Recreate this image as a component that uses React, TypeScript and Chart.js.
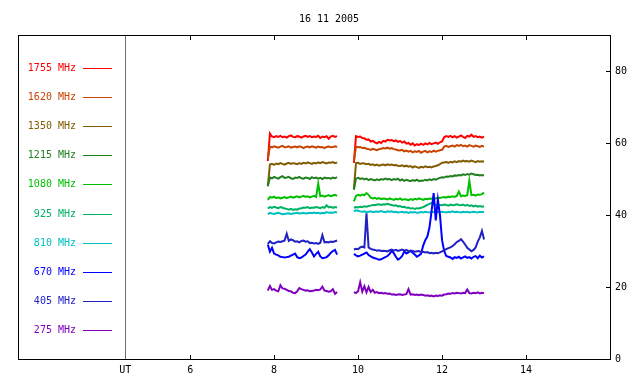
import { useEffect, useRef } from 'react';
import { Chart, registerables } from 'chart.js';
Chart.register(...registerables);

const TITLE = '16 11 2005';
const FONT = '"DejaVu Sans Mono", monospace';

const channelLabels = ['1755 MHz', '1620 MHz', '1350 MHz', '1215 MHz', '1080 MHz', '925 MHz', '810 MHz', '670 MHz', '405 MHz', '275 MHz'];
const channelColors = ['#ff0000', '#c84400', '#825c00', '#228022', '#00c000', '#00b264', '#00c0c0', '#0000ff', '#2222c4', '#8000c0'];

// time sampling of the two observation intervals (UT hours)
const seg1Start = 7.85;
const seg2Start = 9.9;
const sampleStep = 0.05;
const gapTime = 9.7;

const xTickValues = [6, 8, 10, 12, 14];
const yTickValues = [0, 20, 40, 60, 80];
const utPosition = 4.452;
const utLabel = 'UT';

// 1755 MHz
const f1755a = [55.0, 62.6, 61.8, 61.6, 61.9, 61.7, 62.0, 61.6, 61.8, 61.5, 61.9, 62.1, 61.7, 61.6, 61.9, 61.8, 61.5, 61.8, 62.0, 61.7, 61.9, 61.6, 61.8, 61.7, 62.0, 61.4, 61.8, 61.6, 61.9, 61.2, 61.8, 62.0, 61.7, 61.9];
const f1755b = [54.5, 61.9, 61.7, 61.8, 61.4, 61.3, 60.9, 61.0, 60.4, 60.6, 60.2, 59.9, 60.3, 60.0, 60.6, 60.4, 60.9, 60.7, 60.8, 60.5, 60.7, 60.3, 60.6, 60.1, 60.4, 59.8, 60.0, 59.5, 59.9, 59.3, 59.7, 59.4, 59.8, 59.5, 59.9, 59.6, 60.0, 59.7, 59.9, 60.1, 59.8, 60.2, 60.4, 61.6, 61.9, 61.7, 62.0, 61.6, 61.9, 61.5, 61.8, 62.1, 61.7, 61.4, 62.0, 61.8, 62.3, 61.7, 61.9, 61.6, 61.8, 61.5, 61.8];
// 1620 MHz
const f1620a = [55.5, 59.0, 58.8, 59.1, 58.9, 58.7, 59.0, 59.2, 58.8, 58.9, 59.1, 58.7, 58.9, 59.0, 58.8, 59.1, 58.9, 58.6, 58.9, 59.0, 58.8, 59.1, 58.9, 58.7, 59.0, 58.8, 58.9, 58.6, 58.9, 59.0, 58.8, 58.9, 59.1, 58.9];
const f1620b = [55.0, 59.0, 58.8, 58.9, 58.6, 58.7, 58.4, 58.3, 58.1, 58.4, 58.2, 58.0, 58.3, 58.4, 58.6, 58.5, 58.7, 58.4, 58.6, 58.3, 58.2, 58.0, 57.9, 58.1, 57.7, 57.9, 57.6, 57.8, 57.4, 57.7, 57.5, 57.8, 57.3, 57.6, 57.8, 57.4, 57.7, 57.5, 57.9, 57.6, 57.8, 58.0, 58.1, 59.0, 59.2, 58.9, 59.1, 59.3, 59.0, 59.4, 59.2, 59.5, 59.1, 59.3, 59.0, 59.4, 59.2, 59.0, 59.3, 59.1, 58.9, 59.2, 59.0];
// 1350 MHz
const f1350a = [48.0, 54.0, 54.2, 53.9, 54.3, 54.1, 54.4, 54.2, 54.0, 54.3, 54.5, 54.2, 54.4, 54.3, 54.1, 54.4, 54.2, 54.5, 54.3, 54.6, 54.4, 54.2, 54.5, 54.3, 54.6, 54.4, 54.7, 54.5, 54.3, 54.6, 54.5, 54.7, 54.4, 54.6];
const f1350b = [47.2, 54.4, 54.5, 54.2, 54.4, 54.3, 54.1, 54.2, 53.9, 54.1, 53.8, 54.0, 53.7, 53.9, 54.0, 53.8, 54.1, 53.9, 54.0, 53.8, 53.9, 53.7, 53.6, 53.8, 53.5, 53.7, 53.4, 53.6, 53.2, 53.5, 53.3, 53.1, 53.4, 53.2, 53.5, 53.3, 53.4, 53.2, 53.5, 53.6, 53.8, 54.1, 54.5, 54.6, 54.7, 54.5, 54.8, 54.6, 54.9, 54.7, 55.0, 54.8, 55.1, 54.9, 55.0, 54.8, 55.1, 54.9, 54.7, 55.0, 54.8, 54.9, 54.8];
// 1215 MHz
const f1215a = [48.0, 50.4, 50.2, 50.6, 50.3, 50.1, 50.5, 50.8, 50.3, 50.4, 50.6, 50.2, 50.0, 50.4, 50.3, 50.6, 50.2, 50.1, 50.4, 50.3, 50.0, 50.5, 50.2, 50.4, 50.1, 50.3, 50.0, 50.4, 50.2, 50.3, 50.1, 50.4, 50.2, 50.5];
const f1215b = [47.0, 50.1, 50.3, 50.0, 50.2, 49.9, 50.1, 49.7, 50.0, 49.8, 49.6, 49.9, 49.7, 50.0, 49.8, 50.1, 49.9, 50.0, 49.7, 50.0, 49.8, 50.1, 49.6, 49.9, 49.5, 49.8, 49.6, 49.4, 49.7, 49.5, 49.8, 49.4, 49.6, 49.5, 49.8, 49.6, 49.9, 49.7, 50.0, 49.8, 50.1, 50.3, 50.5, 50.4, 50.7, 50.6, 50.8, 50.7, 51.0, 50.9, 51.1, 51.0, 51.3, 51.1, 51.4, 51.2, 51.5, 51.3, 51.1, 51.2, 51.0, 51.1, 51.0];
// 1080 MHz
const f1080a = [44.2, 45.0, 44.8, 45.1, 44.7, 44.9, 44.6, 44.8, 45.0, 44.7, 44.9, 45.1, 44.8, 45.0, 45.2, 44.9, 45.1, 45.3, 45.0, 45.2, 44.9, 45.1, 45.3, 45.0, 48.7, 45.2, 45.4, 45.1, 45.3, 45.5, 45.2, 45.4, 45.6, 45.3];
const f1080b = [43.8, 45.3, 45.6, 45.4, 45.7, 45.5, 46.1, 45.6, 44.8, 44.6, 44.8, 44.5, 44.7, 44.4, 44.6, 44.5, 44.3, 44.6, 44.4, 44.2, 44.5, 44.3, 44.6, 44.2, 44.4, 44.3, 44.1, 44.4, 44.2, 44.5, 44.3, 44.6, 44.4, 44.2, 44.5, 44.4, 44.6, 44.5, 44.7, 44.6, 44.8, 44.7, 44.9, 45.0, 44.8, 45.1, 45.0, 45.2, 45.0, 45.3, 46.5, 45.2, 45.4, 45.3, 45.5, 49.5, 45.5, 45.6, 45.4, 45.7, 45.6, 45.8, 46.2];
// 925 MHz
const f925a = [41.8, 42.2, 42.0, 42.3, 42.1, 41.9, 42.2, 42.0, 41.8, 41.7, 41.5, 41.7, 41.4, 41.6, 41.5, 41.8, 41.9, 42.1, 42.0, 42.2, 41.9, 42.1, 42.0, 42.2, 42.1, 41.9, 42.2, 42.0, 42.7, 42.1, 42.3, 42.0, 42.2, 42.1];
const f925b = [42.0, 42.2, 42.1, 42.3, 42.2, 42.4, 42.3, 42.5, 42.6, 42.8, 42.7, 42.9, 43.0, 42.8, 43.0, 42.9, 43.1, 42.9, 42.8, 42.6, 42.7, 42.4, 42.5, 42.2, 42.3, 42.0, 42.1, 41.8, 41.9, 41.7, 41.9, 41.8, 42.0, 42.2, 42.5, 42.8, 43.1, 43.3, 43.0, 42.8, 42.6, 42.8, 42.7, 42.9, 42.8, 42.6, 42.9, 42.7, 42.8, 43.0, 42.8, 42.7, 42.9, 42.6, 42.8, 42.5, 42.7, 42.4, 42.6, 42.3, 42.5, 42.3, 42.4];
// 810 MHz
const f810a = [40.2, 40.6, 40.4, 40.3, 40.5, 40.6, 40.4, 40.2, 40.3, 40.4, 40.5, 40.3, 40.4, 40.5, 40.6, 40.4, 40.5, 40.6, 40.4, 40.5, 40.6, 40.5, 40.7, 40.5, 40.6, 40.4, 40.6, 40.5, 40.8, 40.6, 40.7, 40.6, 40.8, 40.7];
const f810b = [41.0, 41.3, 41.2, 41.0, 40.9, 41.0, 40.8, 40.9, 41.0, 40.8, 40.9, 41.0, 40.9, 41.1, 40.9, 40.8, 41.0, 40.9, 41.0, 40.8, 40.9, 40.7, 40.8, 40.9, 40.7, 40.8, 40.6, 40.8, 40.7, 40.8, 40.6, 40.7, 40.8, 40.7, 40.9, 40.8, 40.7, 40.9, 40.8, 40.7, 40.9, 40.8, 40.9, 40.8, 40.7, 40.9, 40.8, 41.0, 40.8, 40.9, 40.8, 40.7, 40.9, 40.8, 40.9, 40.7, 40.8, 40.9, 40.8, 40.7, 40.9, 40.8, 40.8];
// 670 MHz
const f670a = [31.8, 29.8, 30.9, 29.3, 29.0, 28.8, 28.4, 28.3, 28.2, 28.3, 28.4, 28.7, 29.0, 29.3, 28.3, 28.0, 28.2, 28.6, 29.0, 29.8, 30.5, 29.6, 28.5, 29.2, 29.8, 28.5, 28.0, 28.1, 28.3, 28.8, 29.5, 30.0, 30.3, 29.0];
const f670b = [29.2, 28.8, 28.5, 28.7, 29.0, 29.3, 29.6, 28.9, 28.5, 28.2, 28.0, 27.8, 27.6, 27.7, 28.0, 28.3, 28.6, 29.2, 30.0, 29.4, 28.4, 27.6, 28.0, 28.6, 29.9, 29.3, 29.6, 30.0, 29.5, 29.0, 28.4, 28.8, 29.2, 31.5, 33.0, 34.0, 36.5, 41.0, 46.1, 38.5, 44.3, 40.0, 33.0, 30.0, 28.6, 28.4, 28.2, 27.8, 28.3, 28.1, 28.4, 27.9, 28.2, 28.5, 28.1, 28.3, 27.9, 28.4, 28.6, 28.0, 28.7, 28.2, 28.5];
// 405 MHz
const f405a = [32.0, 32.7, 32.2, 32.1, 32.4, 32.6, 32.5, 32.7, 32.9, 34.8, 32.8, 33.2, 33.0, 32.6, 32.7, 32.4, 32.8, 32.9, 32.6, 32.7, 32.2, 32.3, 32.1, 32.2, 32.0, 32.3, 34.4, 32.4, 32.5, 32.4, 32.6, 32.5, 32.7, 32.9];
const f405b = [30.4, 30.6, 30.5, 31.0, 31.2, 31.0, 40.5, 31.0, 30.6, 30.4, 30.3, 30.1, 30.2, 30.0, 30.1, 30.0, 29.9, 30.2, 30.4, 30.1, 30.3, 30.0, 30.2, 30.4, 30.1, 30.3, 29.9, 30.1, 30.0, 29.8, 29.9, 30.0, 29.7, 29.8, 29.6, 29.7, 29.4, 29.5, 29.3, 29.5, 29.4, 29.6, 29.9, 30.2, 30.5, 30.8, 31.0, 31.4, 31.9, 32.5, 32.8, 33.3, 32.6, 31.8, 30.9, 30.4, 29.9, 30.3, 31.0, 32.6, 33.8, 35.6, 33.2];
// 275 MHz
const f275a = [19.0, 20.3, 19.2, 19.4, 19.0, 18.8, 20.5, 19.6, 19.5, 19.2, 18.9, 18.8, 18.4, 18.3, 18.8, 19.7, 19.4, 19.2, 19.0, 19.1, 18.8, 18.9, 19.0, 19.2, 19.1, 19.3, 20.1, 19.0, 18.9, 18.7, 18.8, 19.4, 18.1, 18.6];
const f275b = [18.6, 18.3, 18.8, 21.3, 18.7, 20.2, 18.5, 20.0, 18.6, 19.2, 18.4, 18.6, 18.3, 18.4, 18.2, 18.3, 18.1, 18.2, 17.9, 18.0, 17.8, 17.9, 18.0, 17.8, 17.9, 18.0, 19.4, 17.9, 18.0, 17.8, 17.9, 17.7, 17.9, 17.8, 17.6, 17.7, 17.5, 17.6, 17.4, 17.6, 17.5, 17.7, 17.6, 17.9, 18.0, 18.2, 18.1, 18.3, 18.2, 18.4, 18.3, 18.2, 18.4, 18.3, 19.3, 18.3, 18.2, 18.4, 18.3, 18.5, 18.2, 18.4, 18.3];

const segmentsA = [f1755a, f1620a, f1350a, f1215a, f1080a, f925a, f810a, f670a, f405a, f275a];
const segmentsB = [f1755b, f1620b, f1350b, f1215b, f1080b, f925b, f810b, f670b, f405b, f275b];

function toPoints(a: number[], b: number[]) {
  const pts: { x: number; y: number | null }[] = a.map((v, i) => ({ x: seg1Start + i * sampleStep, y: v }));
  pts.push({ x: gapTime, y: null });
  b.forEach((v, i) => pts.push({ x: seg2Start + i * sampleStep, y: v }));
  return pts;
}

const framePlugin = {
  id: 'frameAndLegend',
  afterDraw(chart: any) {
    const { ctx, chartArea: ca, scales } = chart;
    const xs = scales.x;
    const ys = scales.y;
    const L = Math.round(ca.left);
    const R = Math.round(ca.right);
    const T = Math.round(ca.top);
    const B = Math.round(ca.bottom);
    ctx.save();
    ctx.lineWidth = 1;
    // UT separator line
    const ux = Math.round(xs.getPixelForValue(utPosition)) + 0.5;
    ctx.strokeStyle = '#707070';
    ctx.beginPath();
    ctx.moveTo(ux, T);
    ctx.lineTo(ux, B);
    ctx.stroke();
    // frame
    ctx.strokeStyle = '#000000';
    ctx.strokeRect(L + 0.5, T + 0.5, R - L, B - T);
    // inward ticks
    ctx.beginPath();
    xTickValues.forEach((v) => {
      const px = Math.round(xs.getPixelForValue(v)) + 0.5;
      ctx.moveTo(px, T);
      ctx.lineTo(px, T + 5);
      ctx.moveTo(px, B + 1);
      ctx.lineTo(px, B - 4);
    });
    yTickValues.forEach((v) => {
      const py = Math.round(ys.getPixelForValue(v)) + 0.5;
      ctx.moveTo(R + 1, py);
      ctx.lineTo(R - 4, py);
    });
    ctx.stroke();
    // legend
    ctx.font = '10px ' + FONT;
    ctx.textAlign = 'right';
    ctx.textBaseline = 'middle';
    channelLabels.forEach((label, k) => {
      const ly = T + 33 + k * 29.2;
      ctx.fillStyle = channelColors[k];
      ctx.fillText(label, L + 58, ly);
      ctx.strokeStyle = channelColors[k];
      ctx.beginPath();
      const yy = Math.round(ly - 0.5) + 0.5;
      ctx.moveTo(L + 65, yy);
      ctx.lineTo(L + 94, yy);
      ctx.stroke();
    });
    ctx.restore();
  },
};

export default function App() {
  const ref = useRef<HTMLCanvasElement>(null);
  useEffect(() => {
    if (!ref.current) return;
    const datasets = channelLabels.map((label, i) => ({
      label,
      data: toPoints(segmentsA[i], segmentsB[i]),
      borderColor: channelColors[i],
      backgroundColor: channelColors[i],
      borderWidth: 2,
      pointRadius: 0,
      tension: 0,
      spanGaps: false,
      order: -i,
    }));
    const chart = new Chart(ref.current, {
      type: 'line',
      data: { datasets },
      plugins: [framePlugin],
      options: {
        animation: false,
        responsive: false,
        parsing: true,
        layout: { padding: { left: 18, right: 0, top: 0, bottom: 0 } },
        plugins: {
          legend: { display: false },
          tooltip: { enabled: false },
          title: {
            display: true,
            text: TITLE,
            color: '#000',
            font: { family: FONT, size: 10, weight: 'normal' },
            padding: { top: 13, bottom: 10 },
          },
        },
        scales: {
          x: {
            type: 'linear',
            min: 1.9,
            max: 16,
            grid: { display: false, drawTicks: false },
            border: { display: false },
            afterBuildTicks: (scale: any) => {
              scale.ticks = [utPosition, ...xTickValues].map((v) => ({ value: v }));
            },
            afterFit: (scale: any) => {
              scale.height = 25;
            },
            ticks: {
              autoSkip: false,
              maxRotation: 0,
              padding: 5,
              color: '#000',
              font: { family: FONT, size: 10 },
              callback: (value: any, index: number) => (index === 0 ? utLabel : String(value)),
            },
          },
          y: {
            type: 'linear',
            position: 'right',
            min: 0,
            max: 90,
            grid: { display: false, drawTicks: false },
            border: { display: false },
            afterBuildTicks: (scale: any) => {
              scale.ticks = yTickValues.map((v) => ({ value: v }));
            },
            afterFit: (scale: any) => {
              scale.width = 30;
            },
            ticks: {
              padding: 5,
              color: '#000',
              font: { family: FONT, size: 10 },
            },
          },
        },
      } as any,
    });
    return () => chart.destroy();
  }, []);
  return (
    <div style={{ position: 'fixed', left: 0, top: 0, width: 640, height: 384, background: '#fff' }}>
      <canvas ref={ref} width={640} height={384} style={{ display: 'block' }} />
    </div>
  );
}
